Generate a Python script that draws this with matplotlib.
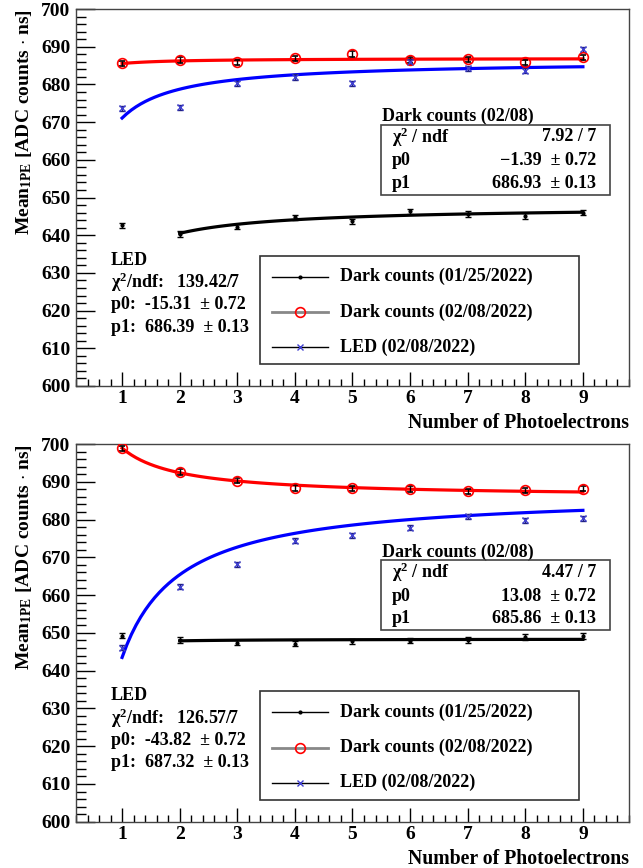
import numpy as np
import matplotlib
matplotlib.use("Agg")
import matplotlib.pyplot as plt
from matplotlib.ticker import MultipleLocator
from matplotlib.patches import Rectangle
from matplotlib.lines import Line2D

plt.rcParams['font.family'] = ['Liberation Serif', 'DejaVu Serif']
plt.rcParams['font.weight'] = 'bold'
plt.rcParams['mathtext.fontset'] = 'custom'
plt.rcParams['mathtext.rm'] = 'Liberation Serif:bold'
plt.rcParams['mathtext.bf'] = 'Liberation Serif:bold'
plt.rcParams['mathtext.it'] = 'Liberation Serif:bold:italic'

# number of photoelectrons
npe = [1, 2, 3, 4, 5, 6, 7, 8, 9]

# top panel
top_dark0125 = [642.6, 640.3, 642.3, 644.7, 643.7, 646.3, 645.6, 645.1, 646.0]
top_dark0208 = [685.6, 686.5, 685.9, 686.9, 688.1, 686.5, 686.7, 685.9, 687.2]
top_led = [673.7, 673.9, 680.3, 682.0, 680.3, 686.0, 684.3, 683.6, 689.3]
top_fit_dark0125 = (-14.4, 647.7)
top_fit_dark0208 = (-1.39, 686.93)
top_fit_led = (-15.31, 686.39)
top_stat = ["7.92 / 7", "\u22121.39  \u00b1 0.72", "686.93  \u00b1 0.13"]
top_led_text = ["139.42/7", "-15.31", "686.39"]

# bottom panel
bot_dark0125 = [649.3, 648.1, 647.4, 647.1, 647.8, 647.9, 648.1, 648.9, 649.2]
bot_dark0208 = [698.9, 692.6, 690.3, 688.4, 688.3, 688.1, 687.5, 687.8, 688.2]
bot_led = [646.1, 662.2, 668.2, 674.4, 675.8, 677.9, 680.9, 679.8, 680.3]
bot_fit_dark0125 = (-1.0, 648.4)
bot_fit_dark0208 = (13.08, 685.86)
bot_fit_led = (-43.82, 687.32)
bot_stat = ["4.47 / 7", "13.08  \u00b1 0.72", "685.86  \u00b1 0.13"]
bot_led_text = ["126.57/7", "-43.82", "687.32"]

err = 0.7
legend_labels = ["Dark counts (01/25/2022)", "Dark counts (02/08/2022)", "LED (02/08/2022)"]

FS = 13
TFS = 14


def fitcurve(ax, pars, x0, x1, color):
    xx = np.linspace(x0, x1, 100)
    ax.plot(xx, pars[1] + pars[0] / xx, color=color, lw=2.3, zorder=2)


def draw_panel(ax, dark0125, dark0208, led, f0125, f0208, fled, stat, ledtxt):
    ax.errorbar(npe, dark0125, yerr=err, fmt='o', ms=2, color='black',
                ecolor='black', elinewidth=1, capsize=2, zorder=4)
    ax.errorbar(npe, dark0208, yerr=err, fmt='o', ms=7, mfc='none', mec='red',
                mew=1.2, ecolor='black', elinewidth=1, capsize=2, zorder=4)
    ax.errorbar(npe, led, yerr=err, fmt='x', ms=4, mec='#4040d0', mew=1,
                ecolor='#202080', elinewidth=1, capsize=2, zorder=4)
    fitcurve(ax, f0125, 2, 9, 'black')
    fitcurve(ax, f0208, 1, 9, 'red')
    fitcurve(ax, fled, 1, 9, 'blue')

    ax.set_xlim(0.2, 9.8)
    ax.set_ylim(600, 700)
    ax.set_xticks(npe)
    ax.xaxis.set_minor_locator(MultipleLocator(0.2))
    ax.yaxis.set_major_locator(MultipleLocator(10))
    ax.yaxis.set_minor_locator(MultipleLocator(2))
    ax.tick_params(axis='x', which='major', direction='in', length=10, width=1, pad=3, labelsize=TFS)
    ax.tick_params(axis='x', which='minor', direction='in', length=5, width=1)
    ax.tick_params(axis='y', which='major', direction='in', length=14, width=1, pad=4, labelsize=TFS)
    ax.tick_params(axis='y', which='minor', direction='in', length=7, width=1)
    for s in ax.spines.values():
        s.set_color('#444444')
        s.set_linewidth(1)

    ax.text(1.0, -0.098, "Number of Photoelectrons", transform=ax.transAxes,
            ha='right', va='center', fontsize=14.2)
    ax.text(-0.094, 1.0, "Mean$_{\\mathrm{1PE}}$ [ADC counts $\\cdot$ ns]",
            transform=ax.transAxes, rotation=90, ha='center', va='top', fontsize=14)

    # fit box
    tr = ax.transAxes
    ax.text(0.553, 0.714, "Dark counts (02/08)", transform=tr, ha='left', va='center', fontsize=FS)
    ax.add_patch(Rectangle((0.551, 0.507), 0.415, 0.185, transform=tr, fill=False,
                           ec='#444444', lw=1.2, zorder=5))
    names = ["\u03c7$^2$ / ndf", "p0", "p1"]
    for yy, nm, val in zip([0.661, 0.597, 0.538], names, stat):
        ax.text(0.571, yy, nm, transform=tr, ha='left', va='center', fontsize=FS)
        ax.text(0.941, yy, val, transform=tr, ha='right', va='center', fontsize=FS)

    # LED fit text
    ax.text(0.063, 0.334, "LED", transform=tr, ha='left', va='center', fontsize=FS)
    ax.text(0.063, 0.275, "\u03c7$^2$/ndf:   " + ledtxt[0], transform=tr, ha='left', va='center', fontsize=FS)
    ax.text(0.063, 0.215, "p0:  " + ledtxt[1] + "  \u00b1 0.72", transform=tr, ha='left', va='center', fontsize=FS)
    ax.text(0.063, 0.156, "p1:  " + ledtxt[2] + "  \u00b1 0.13", transform=tr, ha='left', va='center', fontsize=FS)

    # legend
    ax.add_patch(Rectangle((0.3336, 0.058), 0.576, 0.287, transform=tr, fill=False,
                           ec='#333333', lw=1.2, zorder=5))
    ys = [0.290, 0.196, 0.103]
    line_styles = [dict(color='black', lw=1),
                   dict(color='#888888', lw=2),
                   dict(color='black', lw=1)]
    mark_styles = [dict(marker='o', ms=2, color='black'),
                   dict(marker='o', ms=7, mfc='none', mec='red', mew=1.2),
                   dict(marker='x', ms=4, mec='#4040d0', mew=1)]
    for yy, lab, ls_, mk in zip(ys, legend_labels, line_styles, mark_styles):
        ax.add_line(Line2D([0.354, 0.455], [yy, yy], transform=tr, **ls_))
        ax.add_line(Line2D([0.4045], [yy], transform=tr, ls='none', **mk))
        ax.text(0.4768, yy, lab, transform=tr, ha='left', va='center', fontsize=FS)


fig = plt.figure(figsize=(6.43, 8.68), dpi=100)
ax1 = fig.add_axes([0.1182, 0.5553, 0.860, 0.4343])
ax2 = fig.add_axes([0.1182, 0.0533, 0.860, 0.4351])

draw_panel(ax1, top_dark0125, top_dark0208, top_led, top_fit_dark0125, top_fit_dark0208,
           top_fit_led, top_stat, top_led_text)
draw_panel(ax2, bot_dark0125, bot_dark0208, bot_led, bot_fit_dark0125, bot_fit_dark0208,
           bot_fit_led, bot_stat, bot_led_text)

fig.savefig("out.png", dpi=100)
